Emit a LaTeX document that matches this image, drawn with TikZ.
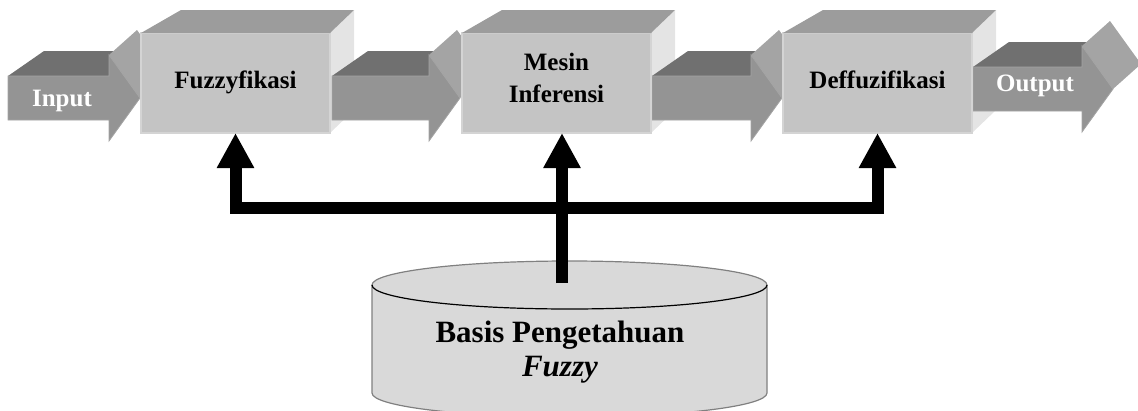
\documentclass[tikz,border=0pt]{standalone}
\usepackage{fontspec}
\setmainfont{Liberation Serif}
\usepackage{tikz}
\usetikzlibrary{arrows.meta, positioning, backgrounds, calc}
\definecolor{frontgrey}{RGB}{196,196,196}
\definecolor{topgrey}{RGB}{156,156,156}
\definecolor{sidegrey}{RGB}{228,228,228}
\definecolor{edgegrey}{RGB}{212,212,212}
\definecolor{shaftgrey}{RGB}{148,148,148}
\definecolor{shafttop}{RGB}{112,112,112}
\definecolor{headgrey}{RGB}{164,164,164}
\definecolor{basegrey}{RGB}{217,217,217}
\definecolor{baseline}{RGB}{128,128,128}

% 3d block arrow: tail x, tip x, centre y
\newcommand{\blockarrow}[3]{%
  \fill[shafttop] ({#1},{#3-22}) -- ++(36,-25) -- ({#2-31+36},{#3-47}) -- ({#2-31},{#3-22}) -- cycle;
  \fill[headgrey] ({#2-31},{#3-43}) -- ++(28,-25) -- ({#2+28},{#3-25}) -- ({#2},{#3}) -- cycle;
  \filldraw[fill=shaftgrey, draw=shaftgrey!85!white, line width=0.8pt]
    ({#1},{#3-22}) -- ({#2-31},{#3-22}) -- ({#2-31},{#3-43}) -- ({#2},{#3})
    -- ({#2-31},{#3+43}) -- ({#2-31},{#3+22}) -- ({#1},{#3+22}) -- cycle;
}

\begin{document}
\begin{tikzpicture}[x=1pt, y=-1pt,
    box/.style={rectangle, fill=frontgrey, draw=edgegrey, line width=1.2pt,
                minimum width=189pt, minimum height=100pt, inner sep=0pt,
                outer sep=0pt, align=center,
                font=\bfseries\fontsize{25}{32}\selectfont},
    oneline/.style={text height=17pt, text depth=6pt},
    flowtext/.style={text=white, inner sep=0pt, text height=17pt, text depth=6pt,
                font=\bfseries\fontsize{25}{32}\selectfont},
    kbtext/.style={align=center, inner sep=0pt,
                font=\bfseries\fontsize{31}{34}\selectfont},
    feed/.style={line width=12pt, line join=miter,
                 -{Triangle[width=35pt, length=35pt]}}
]
    \useasboundingbox (0,0) rectangle (1138,410);

    % process blocks
    \node[box, oneline] (fuzz) at (235.5,83) {Fuzzyfikasi};
    \node[box, right=132pt of fuzz] (inf) {Mesin\\Inferensi\strut};
    \node[box, oneline, right=132pt of inf] (def) {Deffuzifikasi};
    \foreach \b in {fuzz,inf,def}
        \fill[topgrey] (\b.north west) -- ++(40,-23)
            -- ([shift={(24,-23)}]\b.north east) -- (\b.north east) -- cycle;

    \begin{scope}[on background layer]
        \foreach \b in {fuzz,inf,def}
            \fill[sidegrey] (\b.north east) -- ++(24,-23) -- ++(0,100)
                -- (\b.south east) -- cycle;
        \blockarrow{8}{140}{98}
        \blockarrow{332}{460}{98}
        \blockarrow{652}{782}{98}
        \blockarrow{973}{1113}{89}
    \end{scope}
    \node[flowtext] (in) at (62,100.5) {Input};
    \node[flowtext] (out) at (1035,85.5) {Output};

    % knowledge base
    \filldraw[fill=basegrey, draw=baseline, line width=1.2pt]
        (372,285) -- (372,393) arc[start angle=180, end angle=0, x radius=197.5, y radius=24]
        -- (767,285) arc[start angle=0, end angle=-180, x radius=197.5, y radius=24] -- cycle;
    \draw[baseline, line width=1.2pt] (372,285) arc[start angle=180, end angle=0, x radius=197.5, y radius=24];
    \node[kbtext] (kb) at (560,352) {Basis Pengetahuan\\\textit{Fuzzy}};

    % links
    \coordinate (hub) at (562,208);
    \coordinate (kbtop) at (562,283);
    \draw[feed, {Triangle[width=35pt, length=35pt]}-{Triangle[width=35pt, length=35pt]}]
        (fuzz.south) -- (fuzz.south |- hub) -- (def.south |- hub) -- (def.south);
    \draw[feed] (kbtop) -- (kbtop |- inf.south);
\end{tikzpicture}
\end{document}
